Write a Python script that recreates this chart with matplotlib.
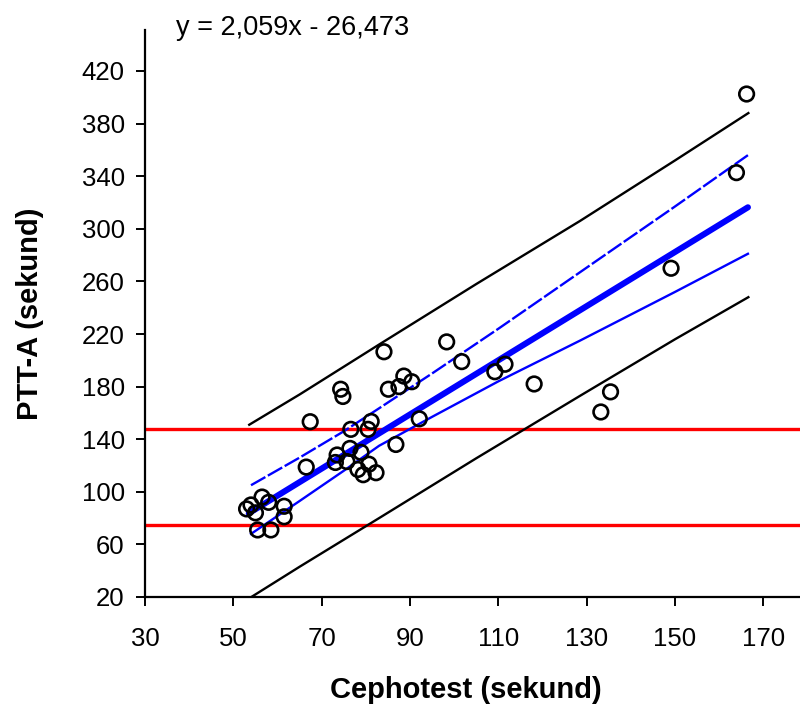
import matplotlib
matplotlib.use("Agg")
import matplotlib.pyplot as plt
import numpy as np

plt.rcParams['font.family'] = ['Liberation Sans', 'DejaVu Sans']

# Scatter data (Cephotest vs PTT-A, seconds)
cephotest = [53.0, 54.0, 55.0, 56.5, 58.0, 61.5, 61.5, 55.5, 58.5,
             66.5, 67.4, 73.5, 73.1, 74.3, 74.8, 75.7, 76.4, 76.6, 78.9,
             78.2, 79.4, 80.7, 80.5, 81.2, 82.3, 84.1, 85.1, 86.8, 87.5,
             88.6, 90.4, 92.1, 98.3, 101.7, 109.2, 111.5, 118.1, 133.2,
             135.4, 149.1, 163.9, 166.2]
ptt_a = [87, 90, 84, 96, 92, 89, 81, 71, 71,
         118.8, 153.3, 128, 122.3, 178, 172.5, 123, 133, 147.5, 130,
         117, 113, 121, 147.5, 153.5, 114.5, 206.5, 178, 136, 180,
         188, 183.7, 155.5, 214, 199, 191.3, 197, 182, 160.7,
         176, 270, 342.7, 402.5]

# Regression line
slope = 2.059
intercept = -26.473
reg_x = [53.5, 166.5]

# Confidence band (blue thin lines)
conf_x = [54, 65, 75, 83, 95, 110, 128.5, 150, 166.5]
conf_upper = [105, 126, 146, 163.5, 190, 224, 267, 317, 356]
conf_lower = [68, 93, 116, 135, 157, 184, 215, 252, 281]

# Prediction band (black lines)
pred_x = [53.6, 65, 83, 105, 128.5, 150, 166.6]
pred_upper = [151, 174, 212, 258, 306, 352, 388]
pred_lower = [19, 43, 80, 125.5, 173, 216, 248]

# Reference limits (red)
ref_lines = [148, 75]

xticks = [30, 50, 70, 90, 110, 130, 150, 170]
yticks = [20, 60, 100, 140, 180, 220, 260, 300, 340, 380, 420]

W, H = 800, 704
fig = plt.figure(figsize=(W / 100, H / 100), dpi=100)
ax_left, ax_right, ax_top, ax_bottom = 145, 800, 30, 597
ax = fig.add_axes([ax_left / W, 1 - ax_bottom / H, (ax_right - ax_left) / W,
                   (ax_bottom - ax_top) / H])

ax.set_xlim(30, 30 + (ax_right - ax_left) / 4.417)
ax.set_ylim(20, 20 + (ax_bottom - ax_top) / 1.315)

for r in ref_lines:
    ax.axhline(r, color='#ff0000', lw=2.4, zorder=2)

ax.plot(pred_x, pred_upper, color='black', lw=1.7, zorder=3)
ax.plot(pred_x, pred_lower, color='black', lw=1.7, zorder=3)

ax.plot(conf_x, conf_upper, color='#0000ff', lw=1.7, dashes=(7, 1.2), zorder=3)
ax.plot(conf_x, conf_lower, color='#0000ff', lw=1.7, zorder=3)

rx = np.array(reg_x)
ax.plot(rx, slope * rx + intercept, color='#0000ff', lw=4.4,
        solid_capstyle='round', zorder=4)

ax.scatter(cephotest, ptt_a, s=10.5 ** 2, facecolors='none',
           edgecolors='black', linewidths=1.9, zorder=5)

ax.spines['top'].set_visible(False)
ax.spines['right'].set_visible(False)
for s in ('left', 'bottom'):
    ax.spines[s].set_linewidth(1.6)
    ax.spines[s].set_color('black')

ax.set_xticks(xticks)
ax.set_yticks(yticks)
ax.tick_params(axis='x', direction='out', length=6.5, width=1.4,
               labelsize=18.5, pad=15)
ax.tick_params(axis='y', direction='out', length=6.5, width=1.4,
               labelsize=18.5, pad=8)

ax.set_xlabel('Cephotest (sekund)', fontsize=21, fontweight='bold', va='center')
ax.xaxis.set_label_coords((466 - ax_left) / (ax_right - ax_left),
                          (ax_bottom - 690) / (ax_bottom - ax_top))
ax.set_ylabel('PTT-A (sekund)', fontsize=21, fontweight='bold', va='center')
ax.yaxis.set_label_coords((30 - ax_left) / (ax_right - ax_left), 0.5)

fig.text(176 / W, 1 - 35 / H, 'y = 2,059x - 26,473', fontsize=19.5,
         ha='left', va='baseline')

fig.savefig('out.png', dpi=100)
